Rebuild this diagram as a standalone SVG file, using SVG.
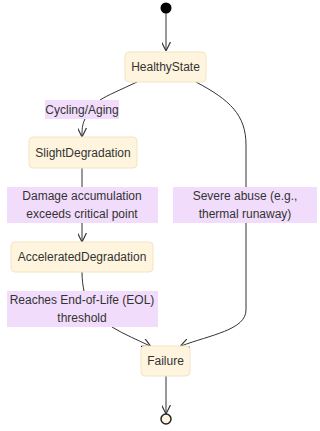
<svg xmlns="http://www.w3.org/2000/svg" width="320" height="431" viewBox="0 0 320 431">
<defs>
<style>
.node rect{fill:#fff5df;stroke:#f3e4c3;stroke-width:1}
.lbl rect{fill:#f2dcfc;stroke:none}
text{font-family:"Liberation Sans",Arial,sans-serif;font-size:12px;fill:#333;text-anchor:middle;dominant-baseline:central}
.edges path{fill:none;stroke:#333;stroke-width:1}
</style>
<marker id="arr" viewBox="0 0 10 10" refX="9" refY="5" markerWidth="9" markerHeight="9" orient="auto" markerUnits="userSpaceOnUse">
<path d="M0,0 L10,5 L0,10" fill="none" stroke="#333" stroke-width="1.3"/>
</marker>
</defs>
<rect width="320" height="431" fill="#fff"/>
<g class="edges">
<path d="M166,13 L166,50" marker-end="url(#arr)"/>
<path d="M137,82 C120,90 108,95 100,100"/>
<path d="M85,119 C82,125 82,130 82,136" marker-end="url(#arr)"/>
<path d="M82,168 L82,187"/>
<path d="M82,223 L82,241" marker-end="url(#arr)"/>
<path d="M82,272 C82,280 83,286 84,291"/>
<path d="M112,327 C125,335 138,340 150,346" marker-end="url(#arr)"/>
<path d="M196,82 C230,100 246,115 246,145 L246,187"/>
<path d="M246,222 L246,310 C246,330 210,335 181,346" marker-end="url(#arr)"/>
<path d="M166,376 L166,413" marker-end="url(#arr)"/>
</g>
<g id="start"><circle cx="166" cy="8" r="5.5" fill="#000"/></g>
<g id="HealthyState" class="node"><rect x="125" y="52" width="81" height="30" rx="4"/><text x="165.5" y="67">HealthyState</text></g>
<g id="SlightDegradation" class="node"><rect x="29" y="137" width="108" height="31" rx="4"/><text x="83" y="152.5">SlightDegradation</text></g>
<g id="AcceleratedDegradation" class="node"><rect x="11" y="242" width="142" height="30" rx="4"/><text x="82" y="257">AcceleratedDegradation</text></g>
<g id="Failure" class="node"><rect x="141" y="346" width="49" height="30" rx="4"/><text x="165.5" y="361">Failure</text></g>
<g id="end"><circle cx="166" cy="419" r="5" fill="#fff5df" stroke="#222" stroke-width="1.5"/></g>
<g id="label-cycling" class="lbl"><rect x="45" y="100" width="74" height="19"/><text x="82" y="109.5">Cycling/Aging</text></g>
<g id="label-damage" class="lbl"><rect x="7" y="187" width="151" height="36"/><text x="82" y="196">Damage accumulation</text><text x="82" y="214">exceeds critical point</text></g>
<g id="label-severe" class="lbl"><rect x="173" y="187" width="144" height="36"/><text x="245" y="196">Severe abuse (e.g.,</text><text x="245" y="214">thermal runaway)</text></g>
<g id="label-eol" class="lbl"><rect x="7" y="291" width="151" height="36"/><text x="82" y="300">Reaches End-of-Life (EOL)</text><text x="82" y="318">threshold</text></g>
</svg>
